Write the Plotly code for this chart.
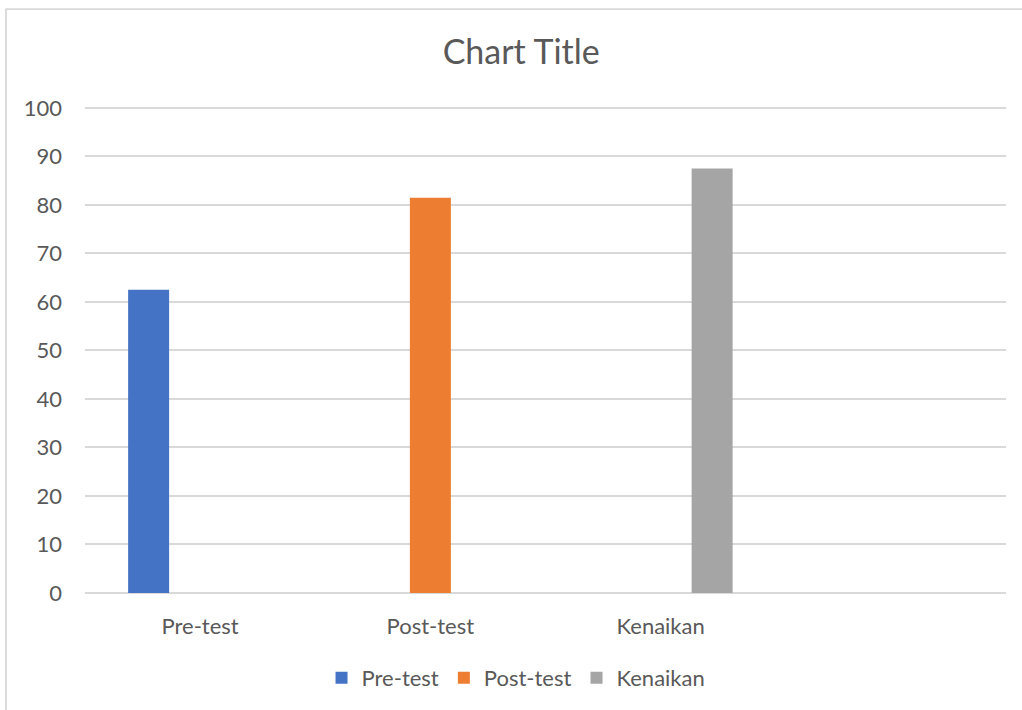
import plotly.graph_objects as go

categories = ["Pre-test", "Post-test", "Kenaikan"]
series_names = ["Pre-test", "Post-test", "Kenaikan"]
pre_test = [62.5, None, None]
post_test = [None, 81.5, None]
kenaikan = [None, None, 87.5]
colors = ["#4472C4", "#ED7D31", "#A5A5A5"]
y_ticks = [0, 10, 20, 30, 40, 50, 60, 70, 80, 90, 100]

FONT = "Lato, 'Noto Sans', sans-serif"
TXT = "#595959"

fig = go.Figure()
for name, vals, col in zip(series_names, [pre_test, post_test, kenaikan], colors):
    fig.add_trace(go.Bar(x=categories, y=vals, name=name, marker=dict(color=col, line=dict(width=0))))

W, H = 1022, 710
L, R, T, B = 85, 16, 105, 116
pw = W - L - R
ph = H - T - B

fig.update_layout(
    width=W, height=H,
    margin=dict(l=L, r=R, t=T, b=B),
    paper_bgcolor="white", plot_bgcolor="white",
    barmode="group", bargap=0.329, bargroupgap=0.204,
    font=dict(family=FONT, color=TXT, size=22),
    title=dict(text="Chart Title", font=dict(family=FONT, size=34, color=TXT),
               x=0.51, xref="container", xanchor="center",
               y=1 - 52 / H, yref="container", yanchor="middle"),
    showlegend=True,
    legend=dict(orientation="h", x=0.468, xref="paper", xanchor="center",
                y=0.0 - (678 - 594) / ph, yanchor="middle",
                font=dict(family=FONT, size=22, color=TXT),
                itemclick=False, bgcolor="rgba(0,0,0,0)"),
    xaxis=dict(type="category", range=[-0.5, 3.5], showgrid=False, showline=False,
               zeroline=False, ticks="", ticklabelstandoff=18,
               tickfont=dict(family=FONT, size=22, color=TXT)),
    yaxis=dict(range=[0, 100.6], tickvals=y_ticks, showgrid=True, gridcolor="#D9D9D9",
               gridwidth=1.8, zeroline=True, zerolinecolor="#D9D9D9", zerolinewidth=1.8,
               showline=False, ticks="", ticklabelstandoff=22,
               tickfont=dict(family=FONT, size=22, color=TXT)),
)

# outer chart border (Excel chart area frame)
fig.add_shape(type="rect", xref="paper", yref="paper",
              x0=(6 - L) / pw, x1=(1030 - L) / pw,
              y0=-(730 - (H - B)) / ph,
              y1=((H - B) - 9) / ph,
              line=dict(color="#D9D9D9", width=1.8), fillcolor="rgba(0,0,0,0)", layer="below")

fig.write_html("out.html")
